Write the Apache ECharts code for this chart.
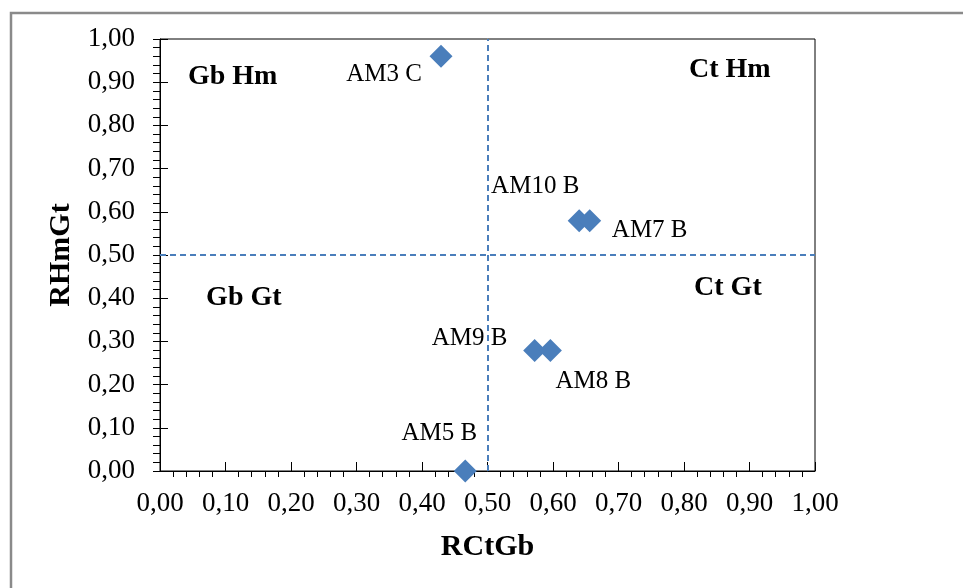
<!DOCTYPE html>
<html>
<head>
<meta charset="utf-8">
<script src="https://cdn.jsdelivr.net/npm/echarts@6/dist/echarts.min.js"></script>
<style>
html,body{margin:0;padding:0;background:#fff;}
#chart{width:963px;height:588px;}
</style>
</head>
<body>
<div id="chart"></div>
<script>
// ---- data ----
const sampleNames = ['AM3 C', 'AM10 B', 'AM7 B', 'AM9 B', 'AM8 B', 'AM5 B'];
const rctgbValues = [0.429, 0.640, 0.656, 0.572, 0.596, 0.466];
const rhmgtValues = [0.960, 0.579, 0.579, 0.279, 0.279, 0.000];
const quadrantNames = ['Gb Hm', 'Ct Hm', 'Gb Gt', 'Ct Gt'];
const quadrantX = [0.111, 0.870, 0.128, 0.867];
const quadrantY = [0.912, 0.928, 0.400, 0.425];
const thresholdX = 0.5;
const thresholdY = 0.5;
const xTitle = 'RCtGb';
const yTitle = 'RHmGt';

// label placement (offsets in px from marker centre)
const labelOffsets = [[-57, 18], [-44, -34], [60, 10], [-65, -12], [43, 31], [-26, -38]];

const FONT = 'Liberation Serif';
const fmt = v => v.toFixed(2).replace('.', ',');

const chart = echarts.init(document.getElementById('chart'), null, {renderer: 'canvas'});

const scatterData = sampleNames.map((n, i) => ({
  name: n,
  value: [rctgbValues[i], rhmgtValues[i]],
  label: {offset: labelOffsets[i]}
}));
const quadData = quadrantNames.map((n, i) => ({name: n, value: [quadrantX[i], quadrantY[i]]}));

const baseAxis = {
  type: 'value', min: 0, max: 1, interval: 0.1,
  splitLine: {show: false}
};

chart.setOption({
  backgroundColor: '#fff',
  animation: false,
  grid: {left: 160, top: 39, width: 655, height: 432, show: true, borderColor: '#000', borderWidth: 1, backgroundColor: 'transparent'},
  xAxis: [
    Object.assign({}, baseAxis, {
      position: 'bottom',
      name: xTitle, nameLocation: 'middle', nameGap: 61,
      nameTextStyle: {fontFamily: FONT, fontWeight: 'bold', fontSize: 30, color: '#000'},
      axisLine: {show: true, lineStyle: {color: '#000', width: 1}},
      axisTick: {show: true, inside: true, length: 9, lineStyle: {color: '#000'}},
      axisLabel: {formatter: fmt, fontFamily: FONT, fontSize: 27, color: '#000', margin: 19}
    }),
    Object.assign({}, baseAxis, {
      position: 'bottom', offset: 0,
      axisLine: {show: false},
      axisTick: {show: false, inside: false},
      minorTick: {show: true, splitNumber: 5, length: 6, lineStyle: {color: '#000', width: 1}},
      axisLabel: {show: false}
    })
  ],
  yAxis: [
    Object.assign({}, baseAxis, {
      position: 'left',
      name: yTitle, nameLocation: 'middle', nameGap: 84, nameRotate: 90,
      nameTextStyle: {fontFamily: FONT, fontWeight: 'bold', fontSize: 30, color: '#000'},
      axisLine: {show: true, lineStyle: {color: '#000', width: 1}},
      axisTick: {show: true, inside: true, length: 8, lineStyle: {color: '#000'}},
      axisLabel: {formatter: fmt, fontFamily: FONT, fontSize: 27, color: '#000', margin: 25}
    }),
    Object.assign({}, baseAxis, {
      position: 'left', offset: 0,
      axisLine: {show: false},
      axisTick: {show: true, inside: false, length: 7, lineStyle: {color: '#000'}},
      minorTick: {show: true, splitNumber: 5, length: 7, lineStyle: {color: '#000', width: 1}},
      axisLabel: {show: false}
    })
  ],
  series: [
    {
      type: 'scatter',
      xAxisIndex: 0, yAxisIndex: 0,
      symbol: 'diamond',
      symbolSize: 23,
      itemStyle: {color: '#4a7ebb', opacity: 1},
      label: {
        show: true, position: 'inside', formatter: '{b}',
        fontFamily: FONT, fontSize: 25, color: '#000',
        textBorderWidth: 0, textBorderColor: 'transparent'
      },
      data: scatterData,
      markLine: {
        silent: true, symbol: 'none',
        label: {show: false},
        lineStyle: {color: '#4a7ebb', type: [6, 4], width: 2, opacity: 1},
        data: [{xAxis: thresholdX}, {yAxis: thresholdY}]
      },
      z: 3
    },
    {
      type: 'scatter',
      xAxisIndex: 0, yAxisIndex: 0,
      symbolSize: 0,
      silent: true,
      itemStyle: {opacity: 1},
      label: {
        show: true, position: 'inside', formatter: '{b}',
        fontFamily: FONT, fontWeight: 'bold', fontSize: 28, color: '#000',
        textBorderWidth: 0, textBorderColor: 'transparent'
      },
      data: quadData
    }
  ],
  graphic: [{
    type: 'polyline',
    shape: {points: [[11, 588], [11, 13], [963, 13]]},
    style: {stroke: '#8a8a8a', lineWidth: 2.5, fill: null},
    silent: true
  }]
});
</script>
</body>
</html>
